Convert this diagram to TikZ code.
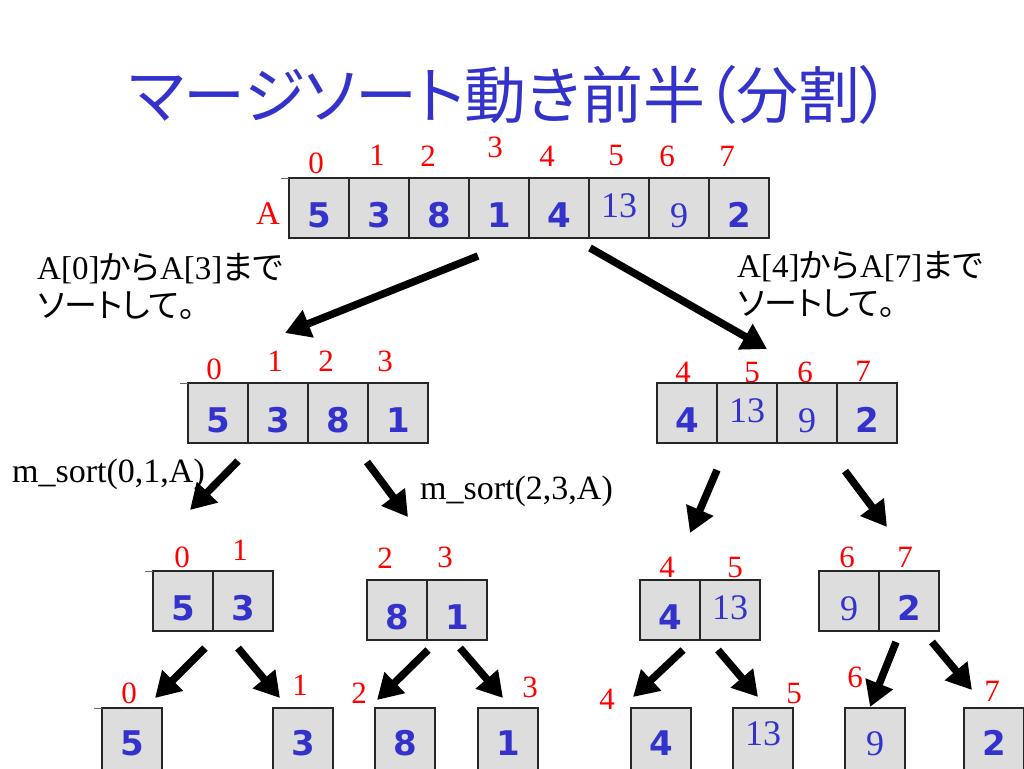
\documentclass[tikz,border=0pt]{standalone}
\usepackage{fontspec}
\setmainfont{Liberation Serif}
\newfontfamily\jpfont[RawFeature=+palt]{Noto Sans CJK JP}
\newfontfamily\numfont{DejaVu Sans}
\usetikzlibrary{arrows.meta,positioning}
\definecolor{valblue}{RGB}{51,51,204}
\definecolor{idxred}{RGB}{255,0,0}
\definecolor{cellgray}{RGB}{221,221,221}
\newcommand\sv[1]{{\rmfamily\mdseries\fontsize{36}{36}\selectfont #1}}
\newcommand\rv[1]{\raisebox{10pt}{\sv{#1}}}
\tikzset{
    %Define standard arrow tip
    >={Triangle[length=25pt,width=28pt]},
    %Define style for array cells
    cell/.style={
           rectangle,
           draw=black!85, line width=1.2pt,
           fill=cellgray,
           minimum width=60pt,
           minimum height=60pt,
           inner sep=0pt, outer sep=0pt,
           text height=39pt, text depth=0pt,
           font=\numfont\bfseries\fontsize{34}{34}\selectfont,
           text=valblue},
    leaf/.style={
           cell,
           minimum height=66pt,
           text height=29pt},
    %Define style for index numbers
    idx/.style={
           text=idxred,
           inner sep=0pt,
           font=\fontsize{31}{31}\selectfont},
    note/.style={
           align=left,
           inner sep=0pt,
           anchor=north west,
           font=\jpfont\fontsize{33}{38}\selectfont},
    call/.style={
           inner sep=0pt,
           anchor=base west,
           font=\fontsize{34}{34}\selectfont},
    % Define arrow style
    pil/.style={
           ->,
           line width=7.5pt},
    tick/.style={
           draw=black!60, line width=0.8pt}
}
\begin{document}
\begin{tikzpicture}[x=1pt,y=-1pt]
\fill[white] (0,0) rectangle (1024,768);
\useasboundingbox (0,0) rectangle (1024,768);

 %title
\node[text=valblue, font=\jpfont\fontsize{62}{62}\selectfont] (ttl) at (510,95) {マージソート動き前半（分割）};

 %array A
\node[cell] (a0) at (319,208) {5};
\node[cell, right=0pt of a0] (a1) {3};
\node[cell, right=0pt of a1] (a2) {8};
\node[cell, right=0pt of a2] (a3) {1};
\node[cell, right=0pt of a3] (a4) {4};
\node[cell, right=0pt of a4] (a5) {\rv{13}};
\node[cell, right=0pt of a5] (a6) {\sv{9}};
\node[cell, right=0pt of a6] (a7) {2};
\node[idx, font=\fontsize{33}{33}\selectfont] (aname) at (268,214) {A};
\node[idx] (ai0) at (316,163) {0};
\node[idx] (ai1) at (377,155) {1};
\node[idx] (ai2) at (428,156) {2};
\node[idx] (ai3) at (495,147) {3};
\node[idx] (ai4) at (547,156) {4};
\node[idx] (ai5) at (616,156) {5};
\node[idx] (ai6) at (667,156) {6};
\node[idx] (ai7) at (727,156) {7};

 %notes
\node[note] (nl) at (37,253) {{\rmfamily A[0]}から{\rmfamily A[3]}まで\\ソートして。};
\node[note] (nr) at (737,251) {{\rmfamily A[4]}から{\rmfamily A[7]}まで\\ソートして。};

 %first half
\node[cell] (b0) at (218,413) {5};
\node[cell, right=0pt of b0] (b1) {3};
\node[cell, right=0pt of b1] (b2) {8};
\node[cell, right=0pt of b2] (b3) {1};
\node[idx] (bi0) at (214,369) {0};
\node[idx] (bi1) at (275,361) {1};
\node[idx] (bi2) at (326,361) {2};
\node[idx] (bi3) at (385,361) {3};

 %second half
\node[cell] (c0) at (687,413) {4};
\node[cell, right=0pt of c0] (c1) {\rv{13}};
\node[cell, right=0pt of c1] (c2) {\sv{9}};
\node[cell, right=0pt of c2] (c3) {2};
\node[idx] (ci0) at (683,372) {4};
\node[idx] (ci1) at (752,372) {5};
\node[idx] (ci2) at (805,372) {6};
\node[idx] (ci3) at (863,371) {7};

 %calls
\node[call] (m01) at (12,482) {m\_sort(0,1,A)};
\node[call] (m23) at (420,499) {m\_sort(2,3,A)};

 %pairs
\node[cell] (d0) at (183,601) {5};
\node[cell, right=0pt of d0] (d1) {3};
\node[idx] (di0) at (182,557) {0};
\node[idx] (di1) at (240,550) {1};
\node[cell] (e0) at (397,610) {8};
\node[cell, right=0pt of e0] (e1) {1};
\node[idx] (ei0) at (385,558) {2};
\node[idx] (ei1) at (445,557) {3};
\node[cell] (f0) at (670,610) {4};
\node[cell, right=0pt of f0] (f1) {\rv{13}};
\node[idx] (fi0) at (667,567) {4};
\node[idx] (fi1) at (735,567) {5};
\node[cell] (g0) at (849,601) {\sv{9}};
\node[cell, right=0pt of g0] (g1) {2};
\node[idx] (gi0) at (847,557) {6};
\node[idx] (gi1) at (905,557) {7};

 %single cells
\node[leaf] (h0) at (132,741) {5};
\node[leaf] (h1) at (303,741) {3};
\node[leaf] (h2) at (405,741) {8};
\node[leaf] (h3) at (508,741) {1};
\node[leaf] (h4) at (661,741) {4};
\node[leaf] (h5) at (763,741) {\rv{13}};
\node[leaf] (h6) at (875,741) {\sv{9}};
\node[leaf] (h7) at (994,741) {2};
\node[idx] (hi0) at (129,693) {0};
\node[idx] (hi1) at (300,685) {1};
\node[idx] (hi2) at (359,693) {2};
\node[idx] (hi3) at (530,687) {3};
\node[idx] (hi4) at (607,699) {4};
\node[idx] (hi5) at (794,693) {5};
\node[idx] (hi6) at (855,677) {6};
\node[idx] (hi7) at (992,691) {7};

 %small marks left of some top edges
\foreach \n in {a0,b0,d0,h0}
    \draw[tick] (\n.north west) -- ++(-8,0);

 %arrow ends
\coordinate (p1) at (478,256);  \coordinate (q1) at (285,333);
\coordinate (p2) at (590,248);  \coordinate (q2) at (767,349);
\coordinate (p3) at (238,461);  \coordinate (q3) at (190,510);
\coordinate (p4) at (367,462);  \coordinate (q4) at (408,517);
\coordinate (p5) at (717,470);  \coordinate (q5) at (690,533);
\coordinate (p6) at (845,471);  \coordinate (q6) at (887,527);
\coordinate (p7) at (205,648);  \coordinate (q7) at (155,698);
\coordinate (p8) at (238,648);  \coordinate (q8) at (280,698);
\coordinate (p9) at (428,650);  \coordinate (q9) at (377,700);
\coordinate (p10) at (460,648); \coordinate (q10) at (503,698);
\coordinate (p11) at (683,650); \coordinate (q11) at (633,697);
\coordinate (p12) at (718,650); \coordinate (q12) at (758,697);
\coordinate (p13) at (896,642); \coordinate (q13) at (870,707);
\coordinate (p14) at (932,642); \coordinate (q14) at (972,690);

\foreach \i in {1,...,14}
    \draw[pil] (p\i) -- (q\i);

\end{tikzpicture}
\end{document}
